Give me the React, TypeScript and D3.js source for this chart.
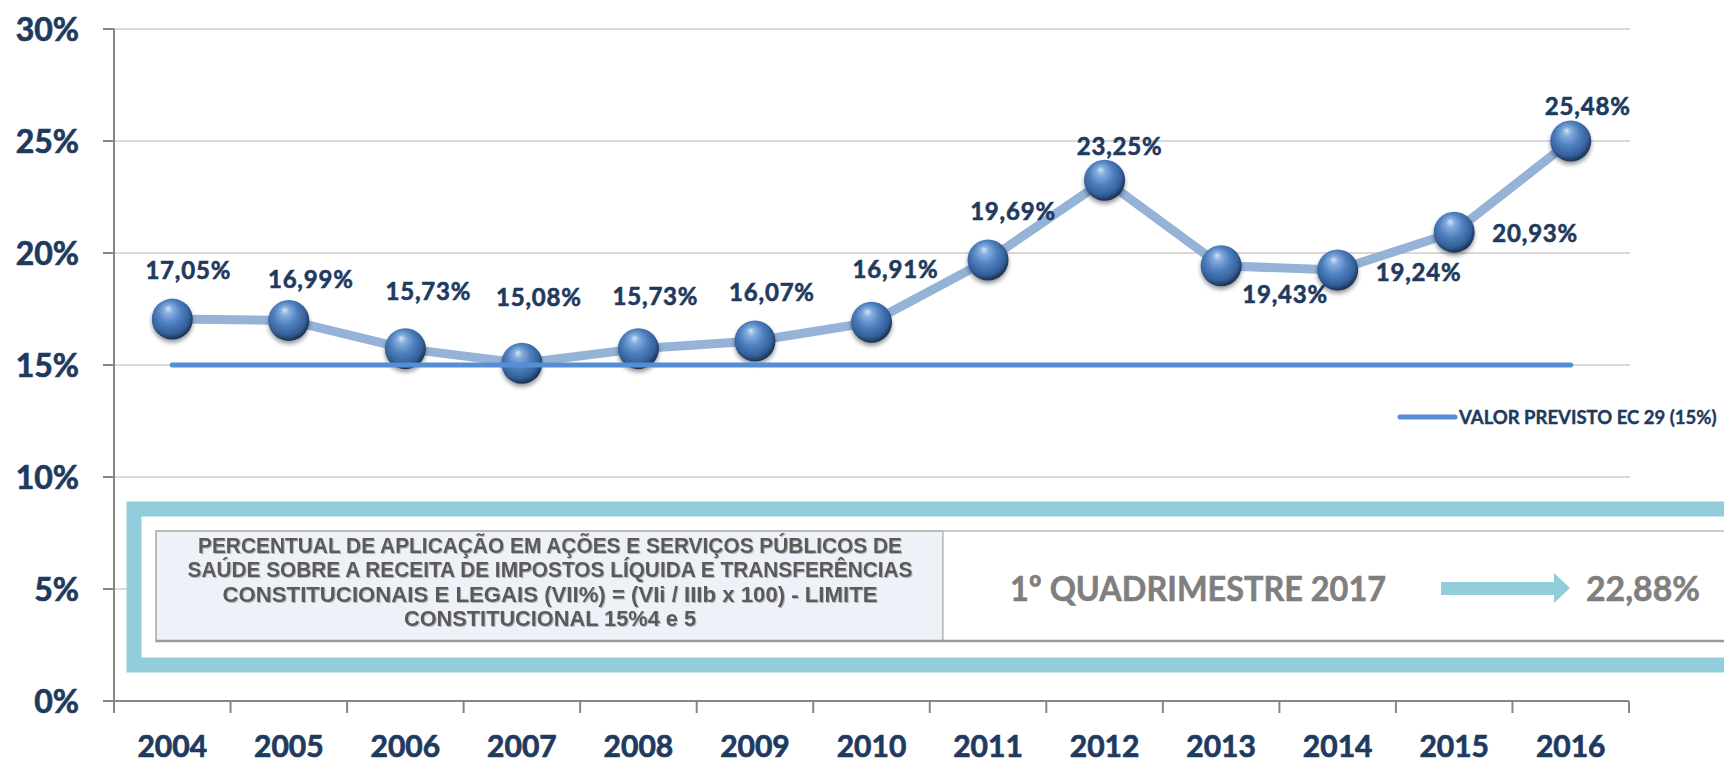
import React from "react";
import * as d3 from "d3";

// anos e percentuais aplicados em saúde
const years = ["2004", "2005", "2006", "2007", "2008", "2009", "2010", "2011", "2012", "2013", "2014", "2015", "2016"];
// posição plotada de cada ponto (2016 aparece no gráfico em 25%)
const values = [17.05, 16.99, 15.73, 15.08, 15.73, 16.07, 16.91, 19.69, 23.25, 19.43, 19.24, 20.93, 25.0];
const valueLabels = ["17,05%", "16,99%", "15,73%", "15,08%", "15,73%", "16,07%", "16,91%", "19,69%", "23,25%", "19,43%", "19,24%", "20,93%", "25,48%"];
const limitValue = 15;
const yTicks = [0, 5, 10, 15, 20, 25, 30];
const legendLabel = "VALOR PREVISTO EC 29 (15%)";
const boxLines = [
  "PERCENTUAL DE APLICAÇÃO EM AÇÕES E SERVIÇOS PÚBLICOS DE",
  "SAÚDE SOBRE A RECEITA DE IMPOSTOS LÍQUIDA E TRANSFERÊNCIAS",
  "CONSTITUCIONAIS E LEGAIS (VII%) = (VIi / IIIb x 100) - LIMITE",
  "CONSTITUCIONAL 15%4 e 5",
];
const quadLabel = "1º QUADRIMESTRE 2017";
const quadValue = "22,88%";

// deslocamento dos rótulos em relação ao ponto (arrastados à mão no original)
const labelOffsets: [number, number][] = [
  [16, -49], [22, -41], [23, -57], [17, -66], [17, -52], [17, -49], [24, -53],
  [25, -49], [15, -34], [64, 29], [81, 2], [81, 1], [17, -35],
];
const boxLineWidths = [704, 725, 655, 292];

const W = 1724;
const H = 765;
const navy = "#1F3A5F";
const font = "Lato, 'Open Sans', sans-serif";

export default function App() {
  const x = d3.scaleBand<string>().domain(years).range([114, 1629]).padding(0);
  const y = d3.scaleLinear().domain([0, 30]).range([701, 29]);
  const cx = (i: number) => (x(years[i]) as number) + x.bandwidth() / 2;

  const line = d3
    .line<number>()
    .x((_, i) => cx(i))
    .y((d) => y(d));

  const boundaries = years.map((yr) => x(yr) as number).concat([x.range()[1]]);

  return (
    <svg width={W} height={H} style={{ position: "absolute", left: 0, top: 0, background: "#fff" }}>
      <defs>
        <radialGradient id="ball" cx="45%" cy="42%" r="58%" fx="40%" fy="24%">
          <stop offset="0%" stopColor="#D4E4F7" />
          <stop offset="18%" stopColor="#86AEDF" />
          <stop offset="50%" stopColor="#4F80BF" />
          <stop offset="82%" stopColor="#34609A" />
          <stop offset="100%" stopColor="#1A3152" />
        </radialGradient>
        <filter id="shadow" x="-30%" y="-30%" width="160%" height="170%">
          <feDropShadow dx="0" dy="3" stdDeviation="2" floodColor="#000" floodOpacity="0.4" />
        </filter>
        <filter id="txtShadow" x="-5%" y="-20%" width="110%" height="140%">
          <feDropShadow dx="1" dy="1" stdDeviation="0.6" floodColor="#000" floodOpacity="0.25" />
        </filter>
      </defs>

      {/* grade */}
      {yTicks.filter((t) => t > 0).map((t) => (
        <line key={t} x1={114} x2={1630} y1={y(t)} y2={y(t)} stroke="#D9D9D9" strokeWidth={2} />
      ))}

      {/* eixo y */}
      <line x1={114} x2={114} y1={y(30)} y2={y(0)} stroke="#868686" strokeWidth={2} />
      {yTicks.map((t) => (
        <g key={t}>
          <line x1={103} x2={114} y1={y(t)} y2={y(t)} stroke="#868686" strokeWidth={2} />
          <text x={79} y={y(t)} dy="0.36em" textAnchor="end" fontFamily={font} fontWeight={700} fontSize={32} fill={navy} stroke={navy} strokeWidth={0.7}>
            {t}%
          </text>
        </g>
      ))}

      {/* eixo x */}
      <line x1={114} x2={1629} y1={y(0)} y2={y(0)} stroke="#868686" strokeWidth={2} />
      {boundaries.map((b, i) => (
        <line key={i} x1={b} x2={b} y1={y(0)} y2={y(0) + 12} stroke="#868686" strokeWidth={2} />
      ))}
      {years.map((yr, i) => (
        <text key={yr} x={cx(i)} y={757} textAnchor="middle" fontFamily={font} fontWeight={700} fontSize={30} fill={navy} stroke={navy} strokeWidth={0.7}>
          {yr}
        </text>
      ))}

      {/* quadro inferior */}
      <rect x={134} y={509} width={1620} height={156} fill="#fff" stroke="#92CDDC" strokeWidth={15} />
      <rect x={156} y={531} width={787} height={110} fill="#EEF1F8" stroke="#A6A6A6" strokeWidth={1.5} />
      <rect x={943} y={531} width={800} height={110} fill="#fff" stroke="#BFBFBF" strokeWidth={1.5} />
      <line x1={156} x2={1743} y1={641} y2={641} stroke="#9A9A9A" strokeWidth={2.5} />
      {boxLines.map((l, i) => (
        <text
          key={i}
          x={550}
          y={545 + i * 24.5}
          dy="0.36em"
          textAnchor="middle"
          fontFamily="'Liberation Sans Narrow', 'Liberation Sans', Arial, sans-serif"
          fontWeight={700}
          fontSize={22}
          fill="#5A5A5A"
          textLength={boxLineWidths[i]}
          lengthAdjust="spacingAndGlyphs"
          filter="url(#txtShadow)"
        >
          {l}
        </text>
      ))}
      <text x={1010} y={588} dy="0.36em" fontFamily={font} fontWeight={700} fontSize={35} fill="#7F7F7F" stroke="#7F7F7F" strokeWidth={0.6} textLength={376} lengthAdjust="spacingAndGlyphs">
        {quadLabel}
      </text>
      <path d="M1441,582 L1554,582 L1554,573 L1570,588 L1554,603 L1554,595 L1441,595 Z" fill="#92CDDC" />
      <text x={1586} y={588} dy="0.36em" fontFamily={font} fontWeight={700} fontSize={35} fill="#7F7F7F" stroke="#7F7F7F" strokeWidth={0.6} textLength={114} lengthAdjust="spacingAndGlyphs">
        {quadValue}
      </text>

      {/* série */}
      <path d={line(values) || ""} fill="none" stroke="#95B3D7" strokeWidth={9} strokeLinejoin="round" />
      {values.map((v, i) => (
        <circle key={i} cx={cx(i)} cy={y(v)} r={20.5} fill="url(#ball)" filter="url(#shadow)" />
      ))}

      {/* limite 15% */}
      <line x1={cx(0)} x2={cx(years.length - 1)} y1={y(limitValue)} y2={y(limitValue)} stroke="#558ED5" strokeWidth={5} strokeLinecap="round" />

      {/* rótulos */}
      {values.map((v, i) => (
        <text
          key={i}
          x={cx(i) + labelOffsets[i][0]}
          y={y(v) + labelOffsets[i][1]}
          dy="0.36em"
          textAnchor="middle"
          fontFamily={font}
          fontWeight={700}
          fontSize={24}
          letterSpacing={0.8}
          fill={navy}
          stroke={navy}
          strokeWidth={0.6}
        >
          {valueLabels[i]}
        </text>
      ))}

      {/* legenda */}
      <line x1={1400} x2={1455} y1={417} y2={417} stroke="#558ED5" strokeWidth={5} strokeLinecap="round" />
      <text x={1459} y={417} dy="0.36em" fontFamily={font} fontWeight={700} fontSize={18.5} fill={navy} stroke={navy} strokeWidth={0.4}>
        {legendLabel}
      </text>
    </svg>
  );
}
